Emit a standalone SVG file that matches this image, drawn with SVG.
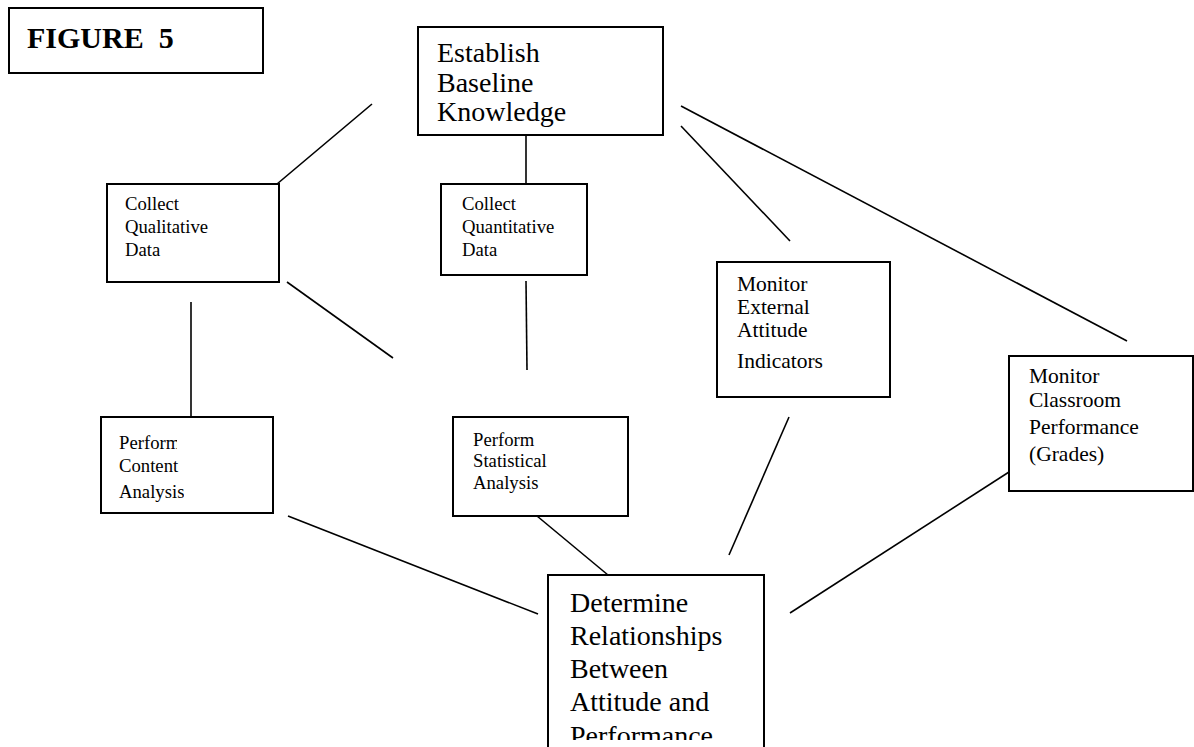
<svg xmlns="http://www.w3.org/2000/svg" width="1194" height="747" viewBox="0 0 1194 747">
  <style>
    .box { fill: #fff; stroke: #000; stroke-width: 2; }
    .ln { stroke: #000; stroke-width: 1.6; fill: none; stroke-linecap: butt; }
    text { font-family: "Liberation Serif", "Times New Roman", serif; fill: #000; }
    .big { font-size: 28px; }
    .mid { font-size: 21.5px; }
    .sm { font-size: 18.7px; }
    .title { font-size: 30px; font-weight: bold; }
  </style>
  <defs>
    <!-- text frames that cut their content short -->
    <clipPath id="clipPerform"><rect x="100" y="420" width="77" height="35"/></clipPath>
    <clipPath id="clipContent"><rect x="100" y="455" width="80" height="25"/></clipPath>
    <clipPath id="clipAnalysis"><rect x="100" y="480" width="84" height="30"/></clipPath>
    <clipPath id="clipDetermine"><rect x="549" y="576" width="214" height="164"/></clipPath>
  </defs>

  <!-- connectors -->
  <g id="connectors">
    <line class="ln" x1="277" y1="184" x2="372" y2="104"/>
    <line class="ln" x1="526" y1="135" x2="526" y2="184"/>
    <line class="ln" x1="681" y1="106" x2="1127" y2="341"/>
    <line class="ln" x1="681" y1="126" x2="790" y2="241"/>
    <line class="ln" x1="287" y1="282" x2="393" y2="358"/>
    <line class="ln" x1="191" y1="302" x2="191" y2="418"/>
    <line class="ln" x1="526" y1="281" x2="527" y2="370"/>
    <line class="ln" x1="288" y1="516" x2="538" y2="614"/>
    <line class="ln" x1="537" y1="516" x2="608" y2="575"/>
    <line class="ln" x1="789" y1="417" x2="729" y2="555"/>
    <line class="ln" x1="1009" y1="472" x2="790" y2="613"/>
  </g>

  <!-- title -->
  <g id="figure-label">
    <rect class="box" x="9" y="8" width="254" height="65"/>
    <text class="title" x="27" y="48" xml:space="preserve">FIGURE  5</text>
  </g>

  <g id="establish-baseline">
    <rect class="box" x="418" y="27" width="245" height="108"/>
    <text class="big" x="437" y="62">Establish</text>
    <text class="big" x="437" y="92">Baseline</text>
    <text class="big" x="437" y="121">Knowledge</text>
  </g>

  <g id="collect-qualitative">
    <rect class="box" x="107" y="184" width="172" height="98"/>
    <text class="sm" x="125" y="210">Collect</text>
    <text class="sm" x="125" y="233">Qualitative</text>
    <text class="sm" x="125" y="256">Data</text>
  </g>

  <g id="collect-quantitative">
    <rect class="box" x="441" y="184" width="146" height="91"/>
    <text class="sm" x="462" y="210">Collect</text>
    <text class="sm" x="462" y="233">Quantitative</text>
    <text class="sm" x="462" y="256">Data</text>
  </g>

  <g id="monitor-external">
    <rect class="box" x="717" y="262" width="173" height="135"/>
    <text class="mid" x="737" y="291">Monitor</text>
    <text class="mid" x="737" y="314">External</text>
    <text class="mid" x="737" y="337">Attitude</text>
    <text class="mid" x="737" y="368">Indicators</text>
  </g>

  <g id="monitor-classroom">
    <rect class="box" x="1009" y="356" width="184" height="135"/>
    <text class="mid" x="1029" y="383">Monitor</text>
    <text class="mid" x="1029" y="407">Classroom</text>
    <text class="mid" x="1029" y="434">Performance</text>
    <text class="mid" x="1029" y="461">(Grades)</text>
  </g>

  <g id="perform-content">
    <rect class="box" x="101" y="417" width="172" height="96"/>
    <text class="sm" x="119" y="449" clip-path="url(#clipPerform)">Perform</text>
    <text class="sm" x="119" y="472" clip-path="url(#clipContent)">Content</text>
    <text class="sm" x="119" y="498" clip-path="url(#clipAnalysis)">Analysis</text>
  </g>

  <g id="perform-statistical">
    <rect class="box" x="453" y="417" width="175" height="99"/>
    <text class="sm" x="473" y="446">Perform</text>
    <text class="sm" x="473" y="467">Statistical</text>
    <text class="sm" x="473" y="489">Analysis</text>
  </g>

  <g id="determine-relationships">
    <rect class="box" x="548" y="575" width="216" height="190"/>
    <g clip-path="url(#clipDetermine)">
      <text class="big" x="570" y="612">Determine</text>
      <text class="big" x="570" y="645">Relationships</text>
      <text class="big" x="570" y="678">Between</text>
      <text class="big" x="570" y="711">Attitude and</text>
      <text class="big" x="570" y="745">Performance</text>
    </g>
  </g>
</svg>
